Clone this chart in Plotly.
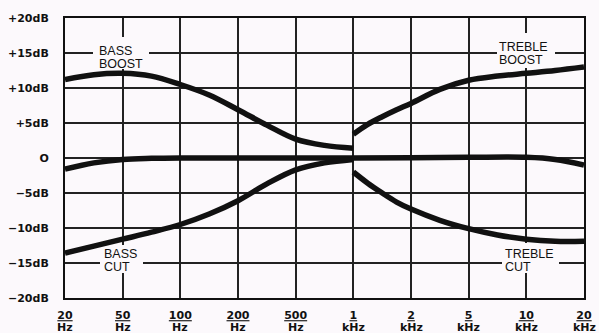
import plotly.graph_objects as go

# Frequency tick positions (evenly spaced categories on the chart)
freq_labels = ["20", "50", "100", "200", "500", "1", "2", "5", "10", "20"]
freq_units = ["Hz", "Hz", "Hz", "Hz", "Hz", "kHz", "kHz", "kHz", "kHz", "kHz"]
db_ticks = [20, 15, 10, 5, 0, -5, -10, -15, -20]
db_labels = ["+20dB", "+15dB", "+10dB", "+5dB", "O", "\u22125dB", "\u221210dB", "\u221215dB", "\u221220dB"]

# Curves: x = position index along frequency axis (0 = 20Hz ... 9 = 20kHz), y = dB
bass_boost_x = [0, 0.5, 1, 1.5, 2, 2.5, 3, 3.5, 4, 4.5, 5]
bass_boost_y = [11.2, 11.9, 12.1, 11.7, 10.5, 9.0, 6.9, 4.7, 2.7, 1.8, 1.4]

bass_flat_x = [0, 0.5, 1, 1.5, 2, 3, 4, 5]
bass_flat_y = [-1.6, -0.7, -0.2, -0.05, 0, 0, 0, 0]

bass_cut_x = [0, 0.5, 1, 1.5, 2, 2.5, 3, 3.5, 4, 4.5, 5]
bass_cut_y = [-13.6, -12.6, -11.6, -10.6, -9.5, -8.0, -6.1, -3.7, -1.7, -0.7, -0.2]

treble_boost_x = [5, 5.25, 5.5, 5.75, 6, 6.5, 7, 7.5, 8, 8.5, 9]
treble_boost_y = [3.4, 4.8, 5.9, 6.9, 7.8, 9.8, 11.1, 11.7, 12.1, 12.5, 13.0]

treble_flat_x = [5, 6, 7, 8, 8.5, 9]
treble_flat_y = [0, 0.05, 0.1, 0.1, -0.2, -1.0]

treble_cut_x = [5, 5.25, 5.5, 5.75, 6, 6.5, 7, 7.5, 8, 8.5, 9]
treble_cut_y = [-2.0, -3.6, -5.0, -6.3, -7.3, -8.9, -10.1, -11.0, -11.6, -11.9, -11.9]

BG = "#fcf9fc"
INK = "#111111"

fig = go.Figure()
for xs, ys in [(bass_boost_x, bass_boost_y), (bass_flat_x, bass_flat_y), (bass_cut_x, bass_cut_y),
               (treble_boost_x, treble_boost_y), (treble_flat_x, treble_flat_y), (treble_cut_x, treble_cut_y)]:
    fig.add_trace(go.Scatter(x=xs, y=ys, mode="lines",
                             line=dict(color=INK, width=5.5, shape="spline", smoothing=1.0),
                             showlegend=False, hoverinfo="skip"))

def px_x(p):
    return (p - 65) / (519 / 9)

def px_y(p):
    return 20 - (p - 18) / 7

# white knock-out boxes behind the curve labels (hide grid lines)
masks = [(93, 149, 37, 69), (497, 555, 33, 68), (100, 143, 245, 273), (502, 559, 243, 273)]
for x0, x1, y0, y1 in masks:
    fig.add_shape(type="rect", xref="x", yref="y", x0=px_x(x0), x1=px_x(x1),
                  y0=px_y(y0), y1=px_y(y1), fillcolor=BG, line=dict(width=0), layer="between")

labels = [
    ("BASS", 99, 51), ("BOOST", 99, 64),
    ("TREBLE", 499, 47), ("BOOST", 499, 60),
    ("BASS", 104, 254), ("CUT", 104, 267),
    ("TREBLE", 505, 253.5), ("CUT", 505, 266.5),
]
for txt, lx, ly in labels:
    fig.add_annotation(x=px_x(lx), y=px_y(ly), xref="x", yref="y", text=txt,
                       showarrow=False, xanchor="left", yanchor="middle",
                       align="left", borderpad=0, borderwidth=0,
                       font=dict(family="Liberation Sans, Arial, sans-serif", size=12.5, color=INK))

# unit line under each frequency number
for i, u in enumerate(freq_units):
    fig.add_annotation(x=i, y=0, xref="x", yref="paper", text=u, showarrow=False,
                       xanchor="center", yanchor="top", yshift=-23, borderpad=0, borderwidth=0,
                       font=dict(family="DejaVu Sans, sans-serif", size=11, color=INK, weight="bold"))

tick_text = [f"<u>{n}</u>" for n in freq_labels]

fig.update_xaxes(range=[0, 9], tickvals=list(range(len(freq_labels))), ticktext=tick_text,
                 showgrid=True, gridcolor="#222222", gridwidth=1.5,
                 showline=True, linecolor=INK, linewidth=2, mirror=True, automargin=False,
                 zeroline=False, ticks="", ticklabelstandoff=6, ticklabeloverflow="allow",
                 tickfont=dict(family="DejaVu Sans, sans-serif", size=11, color=INK, weight="bold"))
fig.update_yaxes(range=[-20, 20], tickvals=db_ticks, ticktext=db_labels,
                 showgrid=True, gridcolor="#222222", gridwidth=1.5,
                 showline=True, linecolor=INK, linewidth=2, mirror=True, automargin=False,
                 zeroline=False, ticks="", ticklabelstandoff=12,
                 tickfont=dict(family="DejaVu Sans, sans-serif", size=11, color=INK, weight="bold"))

fig.update_layout(width=599, height=333, margin=dict(l=65, r=15, t=18, b=35),
                  paper_bgcolor=BG, plot_bgcolor=BG, showlegend=False)

fig.write_html("out.html", config={"displayModeBar": False},
               post_script="document.body.style.margin='0px';document.body.style.background='%s';" % BG)
